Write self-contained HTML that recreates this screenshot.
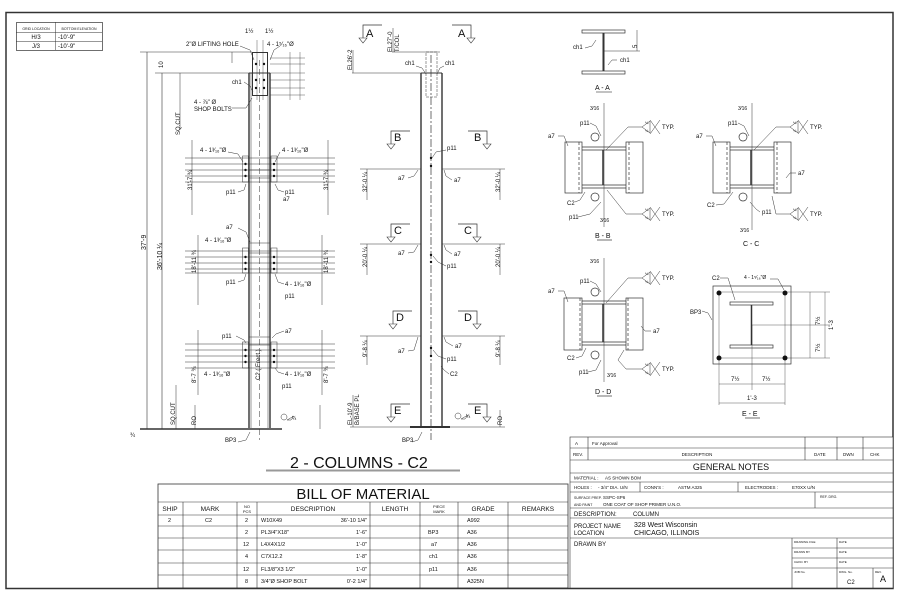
<!DOCTYPE html>
<html><head><meta charset="utf-8"><style>
html,body{margin:0;padding:0;background:#fff}
svg{display:block;font-family:"Liberation Sans",Arial,sans-serif}
</style></head><body>
<svg width="900" height="600" viewBox="0 0 900 600" xmlns="http://www.w3.org/2000/svg">
<rect width="900" height="600" fill="#fff"/>
<g stroke="#333" fill="none" stroke-width="1">
<rect x="6" y="12.5" width="887" height="576" stroke-width="1.5"/>
<rect x="16.5" y="22.5" width="86" height="28" stroke-width="0.7"/>
<line x1="16" y1="32.5" x2="102" y2="32.5" stroke-width="0.5"/>
<line x1="16" y1="41.5" x2="102" y2="41.5" stroke-width="0.5"/>
<line x1="55.5" y1="22" x2="55.5" y2="50" stroke-width="0.5"/>

<line x1="249" y1="73" x2="249" y2="428" stroke-width="1.4"/>
<line x1="270" y1="73" x2="270" y2="428" stroke-width="1.4"/>
<line x1="251" y1="73" x2="251" y2="428" stroke-width="0.5"/>
<line x1="268" y1="73" x2="268" y2="428" stroke-width="0.5"/>
<line x1="259.5" y1="60" x2="259.5" y2="440" stroke-width="0.5" stroke-dasharray="6,3"/>
<line x1="249" y1="73" x2="270" y2="73"/>
<rect x="252.5" y="52.5" width="15" height="43"/>
<line x1="257" y1="40" x2="257" y2="100" stroke-width="0.4"/>
<line x1="263" y1="40" x2="263" y2="100" stroke-width="0.4"/>
<line x1="147" y1="52" x2="147" y2="429" stroke-width="0.6"/>
<line x1="162" y1="73" x2="162" y2="429" stroke-width="0.6"/>
<line x1="140" y1="52" x2="252" y2="52" stroke-width="0.5"/>
<line x1="155" y1="73" x2="249" y2="73" stroke-width="0.5"/>
<line x1="232" y1="52" x2="232" y2="63" stroke-width="0.5"/>
<line x1="180" y1="73" x2="180" y2="130" stroke-width="0.5"/>
<line x1="140" y1="429" x2="282" y2="429" stroke-width="1.5"/>
<line x1="270" y1="58" x2="305" y2="58" stroke-width="0.4"/>
<line x1="270" y1="64" x2="305" y2="64" stroke-width="0.4"/>
<line x1="270" y1="73" x2="305" y2="73" stroke-width="0.4"/>
<line x1="270" y1="80" x2="305" y2="80" stroke-width="0.4"/>
<line x1="270" y1="88" x2="305" y2="88" stroke-width="0.4"/>
<line x1="270" y1="95" x2="305" y2="95" stroke-width="0.4"/>
<line x1="290" y1="52" x2="290" y2="100" stroke-width="0.4"/>
<line x1="300" y1="52" x2="300" y2="100" stroke-width="0.4"/>
<g stroke-width="0.5">
<rect x="249" y="170" width="21" height="8"/>
<rect x="242.5" y="156" width="6" height="26"/>
<rect x="271" y="156" width="6" height="26"/>
<line x1="185" y1="158" x2="335" y2="158"/><line x1="185" y1="164" x2="335" y2="164"/><line x1="185" y1="170" x2="335" y2="170"/><line x1="185" y1="176" x2="335" y2="176"/><line x1="185" y1="182" x2="335" y2="182"/>
<line x1="192" y1="140" x2="192" y2="215"/><line x1="328" y1="140" x2="328" y2="215"/>
<rect x="249" y="243" width="21" height="10"/>
<rect x="242.5" y="248" width="6" height="25"/>
<rect x="271" y="248" width="6" height="25"/>
<line x1="185" y1="251" x2="335" y2="251"/><line x1="185" y1="257" x2="335" y2="257"/><line x1="185" y1="263" x2="335" y2="263"/><line x1="185" y1="269" x2="335" y2="269"/><line x1="185" y1="273" x2="335" y2="273"/>
<line x1="198" y1="235" x2="198" y2="305"/><line x1="322" y1="235" x2="322" y2="305"/>
<rect x="249" y="337" width="21" height="8"/>
<rect x="242.5" y="342" width="6" height="26"/>
<rect x="271" y="342" width="6" height="26"/>
<line x1="185" y1="344" x2="335" y2="344"/><line x1="185" y1="350" x2="335" y2="350"/><line x1="185" y1="356" x2="335" y2="356"/><line x1="185" y1="362" x2="335" y2="362"/><line x1="185" y1="368" x2="335" y2="368"/>
<line x1="198" y1="330" x2="198" y2="395"/><line x1="322" y1="330" x2="322" y2="395"/>
<line x1="176" y1="385" x2="176" y2="429"/><line x1="195" y1="405" x2="195" y2="429"/><line x1="320" y1="405" x2="320" y2="429"/>
<!-- leaders -->
<polyline points="240,46 250,50 254,60"/><polyline points="280,46 274,50 270,60"/>
<polyline points="244,82 250,86 253,92"/><polyline points="232,108 246,108 252,98"/>
<polyline points="228,152 238,154 243,162"/><polyline points="280,152 278,156 275,162"/>
<polyline points="238,192 244,190 246,184"/><polyline points="284,192 278,190 275,184"/>
<polyline points="238,228 246,232 250,242"/><polyline points="238,282 244,280 246,274"/>
<polyline points="284,284 278,282 275,274"/><polyline points="236,336 244,340 246,343"/>
<polyline points="284,331 276,334 272,338"/><polyline points="284,374 278,372 275,368"/>
<polyline points="238,442 246,440 250,432"/>
<circle cx="284" cy="417" r="3"/><path d="M287,420 l4,0 l3,-4z"/>
</g>

<line x1="421" y1="73" x2="421" y2="427" stroke-width="1.4"/>
<line x1="442" y1="73" x2="442" y2="427" stroke-width="1.4"/>
<line x1="421" y1="73" x2="442" y2="73"/>
<line x1="431" y1="55" x2="431" y2="440" stroke-width="0.7" stroke-dasharray="8,2,2,2"/>
<rect x="426" y="52" width="11" height="45" stroke-width="0.5" stroke-dasharray="3,1"/>
<line x1="410" y1="427" x2="450" y2="427" stroke-width="2"/>
<g stroke-width="0.5">
<line x1="352" y1="73" x2="421" y2="73"/><line x1="392" y1="52" x2="440" y2="52"/>
<line x1="353" y1="50" x2="353" y2="73"/><line x1="393" y1="28" x2="393" y2="52"/>
<line x1="360" y1="169" x2="421" y2="169"/><line x1="442" y1="169" x2="505" y2="169"/>
<line x1="367" y1="169" x2="367" y2="200"/><line x1="500" y1="169" x2="500" y2="200"/>
<line x1="360" y1="244" x2="421" y2="244"/><line x1="442" y1="244" x2="505" y2="244"/>
<line x1="367" y1="244" x2="367" y2="275"/><line x1="500" y1="244" x2="500" y2="275"/>
<line x1="360" y1="336" x2="421" y2="336"/><line x1="442" y1="336" x2="505" y2="336"/>
<line x1="367" y1="336" x2="367" y2="365"/><line x1="500" y1="336" x2="500" y2="365"/>
<line x1="350" y1="427" x2="421" y2="427"/><line x1="442" y1="427" x2="505" y2="427"/>
<line x1="353" y1="395" x2="353" y2="427"/><line x1="500" y1="410" x2="500" y2="427"/>
<polyline points="416,66 422,68 426,74"/><polyline points="444,66 440,68 437,74"/>
<polyline points="446,150 436,152 432,158"/><polyline points="408,178 414,176 418,170"/><polyline points="452,180 446,176 444,170"/>
<polyline points="408,253 414,252 418,245"/><polyline points="452,254 446,250 444,245"/><polyline points="446,266 438,262 433,256"/>
<polyline points="408,351 414,350 418,337"/><polyline points="453,346 446,342 444,337"/><polyline points="446,359 438,356 433,350"/>
<polyline points="449,374 444,370 441,366"/>
<polyline points="412,442 418,440 422,432"/>
<circle cx="458" cy="416" r="3"/><path d="M461,419 l4,0 l3,-4z"/>
</g>
<g stroke-width="0.7">
<polyline points="382,25 363,25 363,38"/><polyline points="452,25 471,25 471,38"/>
<polyline points="410,131 391,131 391,144"/><polyline points="468,131 487,131 487,144"/>
<polyline points="410,224 391,224 391,237"/><polyline points="458,224 477,224 477,237"/>
<polyline points="412,311 393,311 393,324"/><polyline points="458,311 477,311 477,324"/>
<polyline points="410,404 391,404 391,417"/><polyline points="468,404 487,404 487,417"/>
</g>
<g stroke-width="0.6">
<path d="M359,38 h8 l-4,5z"/><path d="M467,38 h8 l-4,5z"/>
<path d="M387,144 h8 l-4,5z"/><path d="M483,144 h8 l-4,5z"/>
<path d="M387,237 h8 l-4,5z"/><path d="M473,237 h8 l-4,5z"/>
<path d="M389,324 h8 l-4,5z"/><path d="M473,324 h8 l-4,5z"/>
<path d="M387,417 h8 l-4,5z"/><path d="M483,417 h8 l-4,5z"/>
</g>

<rect x="582" y="30" width="43" height="3" stroke-width="0.7"/>
<rect x="582" y="71" width="43" height="3" stroke-width="0.7"/>
<line x1="603.5" y1="33" x2="603.5" y2="71" stroke-width="2"/>
<line x1="604" y1="51" x2="640" y2="51" stroke-width="0.5"/>
<line x1="637" y1="30" x2="637" y2="51" stroke-width="0.5"/>
<line x1="596" y1="92" x2="612" y2="92" stroke-width="0.6"/>
<g stroke-width="0.5"><polyline points="585,48 592,46 596,40"/><polyline points="617,60 612,60 608,65"/></g>

<g stroke-width="0.7">
<rect x="565" y="142" width="17" height="51"/><rect x="626" y="142" width="17" height="51"/>
<line x1="582" y1="147" x2="626" y2="147"/><line x1="582" y1="150" x2="626" y2="150"/>
<line x1="582" y1="188" x2="626" y2="188"/><line x1="582" y1="185" x2="626" y2="185"/>
<line x1="603" y1="150" x2="603" y2="185" stroke-width="1.5"/>
<line x1="579" y1="142" x2="579" y2="193" stroke-dasharray="3,2"/><line x1="629" y1="142" x2="629" y2="193" stroke-dasharray="3,2"/>
<line x1="604" y1="103" x2="604" y2="227" stroke-width="0.5"/>
<circle cx="595" cy="137" r="4"/><circle cx="595" cy="197" r="4"/>
<line x1="597" y1="240" x2="612" y2="240"/>
<rect x="713" y="142" width="17" height="51"/><rect x="774" y="142" width="17" height="51"/>
<line x1="730" y1="147" x2="774" y2="147"/><line x1="730" y1="150" x2="774" y2="150"/>
<line x1="730" y1="188" x2="774" y2="188"/><line x1="730" y1="185" x2="774" y2="185"/>
<line x1="751" y1="150" x2="751" y2="185" stroke-width="1.5"/>
<line x1="727" y1="142" x2="727" y2="193" stroke-dasharray="3,2"/><line x1="777" y1="142" x2="777" y2="193" stroke-dasharray="3,2"/>
<line x1="752" y1="103" x2="752" y2="230" stroke-width="0.5"/>
<circle cx="743" cy="137" r="4"/><circle cx="743" cy="197" r="4"/>
<rect x="564" y="298" width="18" height="52"/><rect x="626" y="298" width="17" height="52"/>
<line x1="582" y1="301" x2="626" y2="301"/><line x1="582" y1="304" x2="626" y2="304"/>
<line x1="582" y1="345" x2="626" y2="345"/><line x1="582" y1="342" x2="626" y2="342"/>
<line x1="603" y1="304" x2="603" y2="342" stroke-width="1.5"/>
<line x1="580" y1="298" x2="580" y2="350" stroke-dasharray="3,2"/><line x1="628" y1="298" x2="628" y2="350" stroke-dasharray="3,2"/>
<line x1="604" y1="258" x2="604" y2="382" stroke-width="0.5"/>
<circle cx="595" cy="292" r="4"/><circle cx="595" cy="355" r="4"/>
<line x1="597" y1="396" x2="612" y2="396"/>
<rect x="713" y="286" width="78" height="78"/>
<rect x="730" y="302" width="43" height="3"/><rect x="730" y="345" width="43" height="3"/>
<line x1="751.5" y1="305" x2="751.5" y2="345" stroke-width="1.5"/>
<line x1="719" y1="292" x2="785" y2="292" stroke-width="0.4"/><line x1="719" y1="358" x2="785" y2="358" stroke-width="0.4"/>
<line x1="719" y1="292" x2="719" y2="405" stroke-width="0.4"/><line x1="785" y1="292" x2="785" y2="405" stroke-width="0.4"/>
<line x1="752" y1="325" x2="830" y2="325" stroke-width="0.4"/><line x1="752" y1="325" x2="752" y2="390" stroke-width="0.4"/>
<line x1="785" y1="292" x2="830" y2="292" stroke-width="0.4"/><line x1="785" y1="358" x2="830" y2="358" stroke-width="0.4"/>
<line x1="810" y1="292" x2="810" y2="358" stroke-width="0.4"/><line x1="825" y1="292" x2="825" y2="358" stroke-width="0.4"/>
<line x1="719" y1="384" x2="785" y2="384" stroke-width="0.4"/><line x1="719" y1="403" x2="785" y2="403" stroke-width="0.4"/>
<line x1="745" y1="418" x2="760" y2="418"/>
</g>
<!-- weld symbols & leaders in sections -->
<g stroke-width="0.5">
<path d="M642,127 l8,-6 l0,12z"/><line x1="650" y1="120" x2="660" y2="134"/><line x1="650" y1="134" x2="660" y2="120"/><polyline points="642,127 628,127 606,150"/>
<path d="M642,214 l8,-6 l0,12z"/><line x1="650" y1="207" x2="660" y2="221"/><line x1="650" y1="221" x2="660" y2="207"/><polyline points="642,214 626,214 607,190"/>
<path d="M790,127 l8,-6 l0,12z"/><line x1="798" y1="120" x2="808" y2="134"/><line x1="798" y1="134" x2="808" y2="120"/><polyline points="790,127 776,127 754,150"/>
<path d="M790,214 l8,-6 l0,12z"/><line x1="798" y1="207" x2="808" y2="221"/><line x1="798" y1="221" x2="808" y2="207"/><polyline points="790,214 776,214 772,196"/>
<path d="M642,278 l8,-6 l0,12z"/><line x1="650" y1="271" x2="660" y2="285"/><line x1="650" y1="285" x2="660" y2="271"/><polyline points="642,278 628,278 606,303"/>
<path d="M642,369 l8,-6 l0,12z"/><line x1="650" y1="362" x2="660" y2="376"/><line x1="650" y1="376" x2="660" y2="362"/><polyline points="642,369 626,369 618,360 624,350"/>
<polyline points="558,136 564,136 568,146"/><polyline points="575,202 580,200 585,192"/><polyline points="590,123 596,126 601,136"/><polyline points="578,217 590,214 601,202"/>
<polyline points="706,136 712,136 716,146"/><polyline points="796,173 790,173 786,178"/><polyline points="716,205 724,204 733,192"/><polyline points="738,123 744,126 749,136"/><polyline points="760,212 756,209 750,202"/>
<polyline points="558,291 564,291 568,302"/><polyline points="651,331 645,331 641,326"/><polyline points="576,358 582,356 586,348"/><polyline points="590,281 596,284 601,292"/><polyline points="588,372 596,370 601,360"/>
<polyline points="720,278 728,278 735,300"/><polyline points="770,279 778,279 784,290"/><polyline points="702,311 708,313 712,320"/>
</g>
<g fill="#111" stroke="none">
<circle cx="719" cy="293" r="2.5"/><circle cx="785" cy="293" r="2.5"/><circle cx="719" cy="358" r="2.5"/><circle cx="785" cy="358" r="2.5"/>
<circle cx="245.5" cy="164" r="1.2"/><circle cx="245.5" cy="170" r="1.2"/><circle cx="245.5" cy="176" r="1.2"/><circle cx="274" cy="164" r="1.2"/><circle cx="274" cy="170" r="1.2"/><circle cx="274" cy="176" r="1.2"/>
<circle cx="245.5" cy="257" r="1.2"/><circle cx="245.5" cy="263" r="1.2"/><circle cx="245.5" cy="269" r="1.2"/><circle cx="274" cy="257" r="1.2"/><circle cx="274" cy="263" r="1.2"/><circle cx="274" cy="269" r="1.2"/>
<circle cx="245.5" cy="350" r="1.2"/><circle cx="245.5" cy="356" r="1.2"/><circle cx="245.5" cy="362" r="1.2"/><circle cx="274" cy="350" r="1.2"/><circle cx="274" cy="356" r="1.2"/><circle cx="274" cy="362" r="1.2"/>
<circle cx="256" cy="64" r="1.2"/><circle cx="264" cy="64" r="1.2"/><circle cx="256" cy="80" r="1.2"/><circle cx="264" cy="80" r="1.2"/><circle cx="256" cy="88" r="1.2"/><circle cx="264" cy="88" r="1.2"/>
<circle cx="431" cy="158" r="1.2"/><circle cx="431" cy="166" r="1.2"/><circle cx="431" cy="255" r="1.2"/><circle cx="431" cy="262" r="1.2"/><circle cx="431" cy="348" r="1.2"/><circle cx="431" cy="356" r="1.2"/>
</g>

<g stroke-width="0.6">
<rect x="158" y="484" width="410" height="104" stroke-width="0.8"/>
<line x1="158" y1="502" x2="568" y2="502"/>
<line x1="158" y1="515" x2="568" y2="515"/>
<line x1="158" y1="526" x2="568" y2="526"/><line x1="158" y1="538" x2="568" y2="538"/><line x1="158" y1="550" x2="568" y2="550"/><line x1="158" y1="563" x2="568" y2="563"/><line x1="158" y1="575" x2="568" y2="575"/>
<line x1="183" y1="502" x2="183" y2="588"/><line x1="237" y1="502" x2="237" y2="588"/><line x1="257" y1="502" x2="257" y2="588"/><line x1="370" y1="502" x2="370" y2="588"/><line x1="420" y1="502" x2="420" y2="588"/><line x1="458" y1="502" x2="458" y2="588"/><line x1="508" y1="502" x2="508" y2="588"/>
</g>
<g stroke-width="0.6">
<rect x="570" y="437" width="323" height="151" fill="#fff"/>
<line x1="570" y1="448" x2="893" y2="448"/><line x1="570" y1="460" x2="893" y2="460"/><line x1="570" y1="473" x2="893" y2="473"/><line x1="570" y1="482" x2="893" y2="482"/><line x1="570" y1="492" x2="893" y2="492"/><line x1="570" y1="508" x2="893" y2="508"/><line x1="570" y1="518" x2="893" y2="518"/><line x1="570" y1="538" x2="893" y2="538"/>
<line x1="588" y1="437" x2="588" y2="460"/><line x1="805" y1="437" x2="805" y2="460"/><line x1="837" y1="437" x2="837" y2="460"/><line x1="863" y1="437" x2="863" y2="460"/>
<line x1="640" y1="482" x2="640" y2="492"/><line x1="738" y1="482" x2="738" y2="492"/><line x1="815" y1="492" x2="815" y2="508"/>
<line x1="792" y1="538" x2="792" y2="588"/><line x1="837" y1="538" x2="837" y2="588"/><line x1="873" y1="568" x2="873" y2="588"/>
<line x1="792" y1="548" x2="893" y2="548"/><line x1="792" y1="558" x2="893" y2="558"/><line x1="792" y1="568" x2="893" y2="568"/>
</g>
<line x1="266" y1="470.5" x2="460" y2="470.5" stroke="#999" stroke-width="2"/>
</g>

<g fill="#111" font-size="6">
<text x="36" y="30" font-size="3.5" text-anchor="middle">GRID LOCATION</text><text x="79" y="30" font-size="3.5" text-anchor="middle">BOTTOM ELEVATION</text>
<text x="36" y="39" text-anchor="middle">H/3</text><text x="58" y="39">-10'-9"</text>
<text x="36" y="48" text-anchor="middle">J/3</text><text x="58" y="48">-10'-9"</text>
<text x="186" y="46">2"Ø LIFTING HOLE</text><text x="245" y="33">1½</text><text x="265" y="33">1½</text><text x="267" y="46">4 - 1⁵⁄₁₆"Ø</text>
<text x="232" y="84">ch1</text><text x="194" y="104">4 - ⅞" Ø</text><text x="194" y="111">SHOP BOLTS</text>
<text x="200" y="152">4 - 1³⁄₁₆"Ø</text><text x="282" y="152">4 - 1³⁄₁₆"Ø</text>
<text x="226" y="194">p11</text><text x="285" y="194">p11</text><text x="283" y="201">a7</text>
<text x="226" y="229">a7</text><text x="205" y="242">4 - 1³⁄₁₆"Ø</text><text x="285" y="286">4 - 1³⁄₁₆"Ø</text>
<text x="226" y="284">p11</text><text x="285" y="298">p11</text>
<text x="222" y="338">p11</text><text x="285" y="333">a7</text><text x="204" y="376">4 - 1³⁄₁₆"Ø</text><text x="285" y="376">4 - 1³⁄₁₆"Ø</text><text x="282" y="388">p11</text>
<text x="225" y="442">BP3</text><text x="130" y="437">¾</text>
<text x="402" y="442">BP3</text>
<text x="292" y="420" font-size="5">¼</text><text x="466" y="418" font-size="5">¼</text>
<g transform="rotate(-90)">
<text x="-250" y="146" font-size="7">37'-9</text><text x="-270" y="162" font-size="7">36'-10 ¼</text>
<text x="-68" y="163">10</text><text x="-135" y="180">SQ.CUT</text><text x="-425" y="175">SQ.CUT</text>
<text x="-190" y="192">31'-7 ¾</text><text x="-190" y="328">31'-7 ¾</text>
<text x="-273" y="196">18'-11 ¾</text><text x="-273" y="328">18'-11 ¾</text>
<text x="-383" y="196">8'-7 ¾</text><text x="-383" y="328">8'-7 ¾</text>
<text x="-380" y="260">C2 ( Erect )</text>
<text x="-70" y="352">EL26'-2</text><text x="-52" y="392">EL27'-0</text><text x="-52" y="399">T/COL</text>
<text x="-192" y="367">32'-0 ¼</text><text x="-192" y="500">32'-0 ¼</text>
<text x="-267" y="367">20'-0 ¼</text><text x="-267" y="500">20'-0 ¼</text>
<text x="-357" y="367">9'-8 ¼</text><text x="-357" y="500">9'-8 ¼</text>
<text x="-425" y="352">EL-10'-9</text><text x="-425" y="359">B/BASE PL</text>
<text x="-425" y="196">RO</text><text x="-425" y="502">RO</text>
<text x="-48" y="637">5</text><text x="-325" y="820">7½</text><text x="-352" y="820">7½</text><text x="-330" y="833">1'-3</text>
</g>
<text x="405" y="65">ch1</text><text x="445" y="65">ch1</text>
<text x="447" y="150">p11</text><text x="398" y="180">a7</text><text x="454" y="182">a7</text>
<text x="398" y="255">a7</text><text x="454" y="256">a7</text><text x="447" y="268">p11</text>
<text x="398" y="353">a7</text><text x="455" y="348">a7</text><text x="447" y="361">p11</text><text x="450" y="376">C2</text>
<g font-size="11"><text x="366" y="37">A</text><text x="458" y="37">A</text><text x="394" y="141">B</text><text x="474" y="141">B</text><text x="394" y="234">C</text><text x="464" y="234">C</text><text x="396" y="321">D</text><text x="464" y="321">D</text><text x="394" y="414">E</text><text x="474" y="414">E</text></g>
<text x="573" y="49">ch1</text><text x="620" y="62">ch1</text><text x="595" y="90" font-size="7">A - A</text>
<text x="590" y="110" font-size="5">3⁄16</text><text x="580" y="125">p11</text><text x="548" y="138">a7</text><text x="645" y="124" font-size="4">¼</text><text x="645" y="132" font-size="4">¼</text><text x="662" y="129">TYP.</text>
<text x="567" y="205">C2</text><text x="569" y="219">p11</text><text x="600" y="222" font-size="5">3⁄16</text><text x="645" y="211" font-size="4">¼</text><text x="645" y="219" font-size="4">¼</text><text x="662" y="216">TYP.</text>
<text x="595" y="238" font-size="7">B - B</text>
<text x="738" y="110" font-size="5">3⁄16</text><text x="728" y="125">p11</text><text x="696" y="138">a7</text><text x="793" y="124" font-size="4">¼</text><text x="793" y="132" font-size="4">¼</text><text x="810" y="129">TYP.</text>
<text x="798" y="175">a7</text><text x="707" y="207">C2</text><text x="762" y="214">p11</text><text x="740" y="232" font-size="5">3⁄16</text><text x="793" y="211" font-size="4">¼</text><text x="793" y="219" font-size="4">¼</text><text x="810" y="216">TYP.</text>
<text x="743" y="246" font-size="7">C - C</text>
<text x="590" y="263" font-size="5">3⁄16</text><text x="580" y="283">p11</text><text x="548" y="293">a7</text><text x="645" y="275" font-size="4">¼</text><text x="645" y="283" font-size="4">¼</text><text x="662" y="280">TYP.</text>
<text x="653" y="333">a7</text><text x="567" y="360">C2</text><text x="579" y="374">p11</text><text x="607" y="377" font-size="5">3⁄16</text><text x="645" y="366" font-size="4">¼</text><text x="645" y="374" font-size="4">¼</text><text x="662" y="371">TYP.</text>
<text x="595" y="394" font-size="7">D - D</text>
<text x="712" y="280">C2</text><text x="744" y="279" font-size="5">4 - 1⁵⁄₁₆"Ø</text><text x="690" y="314">BP3</text>
<text x="731" y="381">7½</text><text x="762" y="381">7½</text><text x="747" y="400">1'-3</text>
<text x="742" y="416" font-size="7">E - E</text>

<text x="290" y="468" font-size="16">2 - COLUMNS - C2</text>
<text x="363" y="499" font-size="15" text-anchor="middle">BILL OF MATERIAL</text>
<g font-size="6.5" text-anchor="middle">
<text x="170" y="511">SHIP</text><text x="210" y="511">MARK</text><text x="247" y="508" font-size="4">NO</text><text x="247" y="513" font-size="4">PCS</text><text x="313" y="511">DESCRIPTION</text><text x="395" y="511">LENGTH</text><text x="439" y="508" font-size="4">PIECE</text><text x="439" y="513" font-size="4">MARK</text><text x="483" y="511">GRADE</text><text x="538" y="511">REMARKS</text>
</g>
<g font-size="5.5">
<text x="168" y="522">2</text><text x="205" y="522">C2</text>
<text x="245" y="522">2</text><text x="261" y="522">W10X49</text><text x="367" y="522" text-anchor="end">36'-10 1/4"</text><text x="467" y="522">A992</text>
<text x="245" y="534">2</text><text x="261" y="534">PL3/4"X18"</text><text x="367" y="534" text-anchor="end">1'-6"</text><text x="428" y="534">BP3</text><text x="467" y="534">A36</text>
<text x="243" y="546">12</text><text x="261" y="546">L4X4X1/2</text><text x="367" y="546" text-anchor="end">1'-0"</text><text x="431" y="546">a7</text><text x="467" y="546">A36</text>
<text x="245" y="558">4</text><text x="261" y="558">C7X12.2</text><text x="367" y="558" text-anchor="end">1'-8"</text><text x="429" y="558">ch1</text><text x="467" y="558">A36</text>
<text x="243" y="571">12</text><text x="261" y="571">FL3/8"X3 1/2"</text><text x="367" y="571" text-anchor="end">1'-0"</text><text x="429" y="571">p11</text><text x="467" y="571">A36</text>
<text x="245" y="583">8</text><text x="261" y="583">3/4"Ø SHOP BOLT</text><text x="367" y="583" text-anchor="end">0'-2 1/4"</text><text x="467" y="583">A325N</text>
</g>
<g font-size="4.5">
<text x="575" y="445">A</text><text x="592" y="445">For Approval</text>
<text x="573" y="456">REV.</text><text x="697" y="456" text-anchor="middle">DESCRIPTION</text><text x="814" y="456">DATE</text><text x="843" y="456">DWN</text><text x="870" y="456">CHK</text>
<text x="574" y="479.5">MATERIAL :</text><text x="605" y="479.5">AS SHOWN BOM</text>
<text x="574" y="489">HOLES :</text><text x="598" y="489">- 3/4"  DIA. U/N</text><text x="644" y="489">CONN'S :</text><text x="678" y="489">ASTM A325</text><text x="745" y="489">ELECTRODES :</text><text x="792" y="489">E70XX U/N</text>
<text x="820" y="498" font-size="3.5">REF. DRG.</text>
<text x="574" y="499" font-size="3.5">SURFACE PREP.</text><text x="603" y="499">SSPC-SP6</text>
<text x="574" y="506" font-size="3.5">AND PAINT</text><text x="603" y="506">ONE COAT OF SHOP PRIMER U.N.O.</text>
<text x="880" y="582" font-size="9">A</text>
</g>
<text x="731" y="470" font-size="9" text-anchor="middle">GENERAL NOTES</text>
<g font-size="6">
<text x="574" y="516">DESCRIPTION:</text><text x="633" y="516">COLUMN</text>
<text x="574" y="528">PROJECT NAME</text><text x="634" y="527" font-size="7">328 West Wisconsin</text>
<text x="574" y="535">LOCATION</text><text x="634" y="535" font-size="7">CHICAGO, ILLINOIS</text>
<text x="574" y="546">DRAWN BY</text><text x="847" y="584">C2</text>
</g>
<g font-size="3"><text x="794" y="543">DRAWING FILE</text><text x="839" y="543">DATE</text><text x="794" y="553">DRAWN BY</text><text x="839" y="553">DATE</text><text x="794" y="563">CHKD. BY</text><text x="839" y="563">DATE</text><text x="794" y="573">JOB No.</text><text x="839" y="573">DWG. No.</text><text x="875" y="573">REV.</text></g>
</g>
</svg>
</body></html>
